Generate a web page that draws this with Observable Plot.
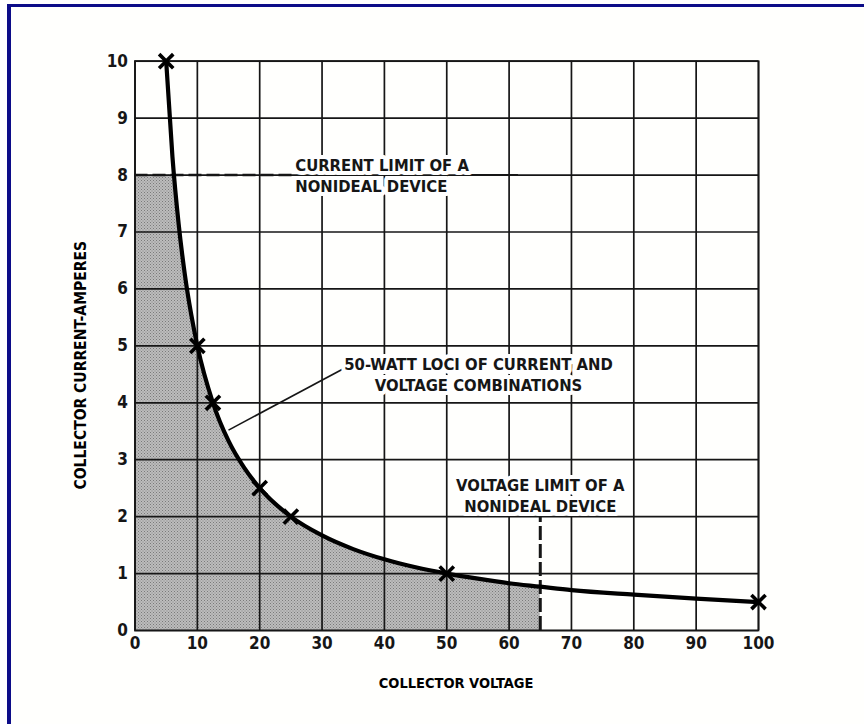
<!DOCTYPE html>
<html>
<head>
<meta charset="utf-8">
<script src="https://cdn.jsdelivr.net/npm/d3@7"></script>
<script src="https://cdn.jsdelivr.net/npm/@observablehq/plot@0.6"></script>
<style>
  html, body { margin: 0; padding: 0; background: #ffffff; width: 864px; height: 724px; overflow: hidden; }
  #frame { position: absolute; left: 7px; top: 4px; width: 900px; height: 800px;
           border-left: 4px solid #0c0c88; border-top: 3px solid #0c0c88; background: #fffffd; }
  #chart { position: absolute; left: 0; top: 0; }
</style>
</head>
<body>
<div id="frame"></div>
<div id="chart"></div>
<script>
// ---- data ----
const xTicks = [0, 10, 20, 30, 40, 50, 60, 70, 80, 90, 100];
const yTicks = [0, 1, 2, 3, 4, 5, 6, 7, 8, 9, 10];

// 50-watt locus (collector voltage, collector current)
const curveV = [5, 6, 7, 8, 9, 10, 12.5, 15, 17.5, 20, 25, 30, 35, 40, 45, 50, 55, 60, 65, 70, 80, 90, 100];
const curveI = [10, 8.33, 7.14, 6.25, 5.56, 5, 4, 3.33, 2.86, 2.5, 2, 1.67, 1.43, 1.25, 1.11, 1, 0.91, 0.83, 0.77, 0.71, 0.63, 0.56, 0.5];

// marked points (X)
const markerV = [5, 10, 12.5, 20, 25, 50, 100];
const markerI = [10, 5, 4, 2.5, 2, 1, 0.5];

// shaded safe operating region
const shadeV = [0, 6.25, 7, 8, 9, 10, 12.5, 15, 17.5, 20, 25, 30, 35, 40, 45, 50, 55, 60, 65];
const shadeI = [8, 8, 7.14, 6.25, 5.56, 5, 4, 3.33, 2.86, 2.5, 2, 1.67, 1.43, 1.25, 1.11, 1, 0.91, 0.83, 0.77];

const currentLimit = 8;
const voltageLimit = 65;
const voltageLimitTop = 2;

const labelCurrent = "CURRENT LIMIT OF A\nNONIDEAL DEVICE";
const labelLoci = "50-WATT LOCI OF CURRENT AND\nVOLTAGE COMBINATIONS";
const labelVoltage = "VOLTAGE LIMIT OF A\nNONIDEAL DEVICE";
const xTitle = "COLLECTOR VOLTAGE";
const yTitle = "COLLECTOR CURRENT-AMPERES";

// ---- build tables ----
const curve = curveV.map((v, i) => ({v, a: curveI[i]}));
const markers = markerV.map((v, i) => ({v, a: markerI[i]}));
const shade = shadeV.map((v, i) => ({v, a: shadeI[i]}));

const ink = "#161616";
const font = "'Liberation Sans Narrow', 'DejaVu Sans Condensed', 'Roboto Condensed', sans-serif";

const chart = Plot.plot({
  width: 864,
  height: 724,
  marginLeft: 134.5,
  marginRight: 106,
  marginTop: 60.7,
  marginBottom: 94,
  style: {fontFamily: font, fontWeight: "bold", fontSize: "17px", color: ink, background: "transparent"},
  x: {domain: [0, 100]},
  y: {domain: [0, 10]},
  marks: [
    Plot.areaY(shade, {x: "v", y1: 0, y2: "a", fill: "url(#stipple)", curve: "monotone-x"}),
    Plot.gridX(xTicks, {stroke: ink, strokeOpacity: 1, strokeWidth: 1.7}),
    Plot.gridY(yTicks, {stroke: ink, strokeOpacity: 1, strokeWidth: 1.7}),
    Plot.frame({stroke: ink, strokeWidth: 1.7}),
    Plot.axisX(xTicks, {tickSize: 0, tickPadding: 6, label: null, fontSize: 17, tickFormat: d => String(d)}),
    Plot.axisY(yTicks, {tickSize: 0, tickPadding: 7, label: null, fontSize: 17, tickFormat: d => String(d)}),
    Plot.ruleY([currentLimit], {x1: 0, x2: 25.5, stroke: ink, strokeWidth: 2.6, strokeDasharray: "13,5"}),
    Plot.ruleY([currentLimit], {x1: 53.5, x2: 61.5, stroke: ink, strokeWidth: 2}),
    Plot.ruleX([voltageLimit], {y1: 0, y2: voltageLimitTop, stroke: ink, strokeWidth: 3, strokeDasharray: "14,4"}),
    Plot.line(curve, {x: "v", y: "a", stroke: "#000", strokeWidth: 4.2, curve: "monotone-x"}),
    Plot.dot(markers, {x: "v", y: "a", symbol: "times", r: 6.5, stroke: "#000", strokeWidth: 3.6}),
    Plot.link([{x1: 15.0, y1: 3.52, x2: 33.8, y2: 4.62}], {x1: "x1", y1: "y1", x2: "x2", y2: "y2", stroke: ink, strokeWidth: 1.6}),
    Plot.text([labelCurrent], {x: 25.7, y: currentLimit, text: d => d, textAnchor: "start", lineAnchor: "middle", lineHeight: 1.25, fontSize: 16.5, fill: ink, stroke: "white", strokeWidth: 8}),
    Plot.text([labelLoci], {x: 55.1, y: 4.51, text: d => d, textAnchor: "middle", lineAnchor: "middle", lineHeight: 1.25, fontSize: 16.5, fill: ink, stroke: "white", strokeWidth: 8}),
    Plot.text([labelVoltage], {x: voltageLimit, y: 2.38, text: d => d, textAnchor: "middle", lineAnchor: "middle", lineHeight: 1.25, fontSize: 16.5, fill: ink, stroke: "white", strokeWidth: 8}),
    Plot.text([xTitle], {x: 51.5, frameAnchor: "bottom", dy: 53, text: d => d, textAnchor: "middle", lineAnchor: "middle", fontSize: 14.5, fill: "#000"}),
    Plot.text([yTitle], {y: 4.66, frameAnchor: "left", dx: -53.5, rotate: -90, text: d => d, textAnchor: "middle", lineAnchor: "middle", fontSize: 15.5, fill: "#000"})
  ]
});

// stipple pattern for the shaded region
const svg = d3.select(chart);
const defs = svg.insert("defs", ":first-child");
const pat = defs.append("pattern").attr("id", "stipple").attr("patternUnits", "userSpaceOnUse")
  .attr("width", 3).attr("height", 3);
pat.append("rect").attr("width", 3).attr("height", 3).attr("fill", "#bcbcbc");
pat.append("rect").attr("x", 0).attr("y", 0).attr("width", 1).attr("height", 1).attr("fill", "#7a7a7a");
pat.append("rect").attr("x", 1.5).attr("y", 1.5).attr("width", 1).attr("height", 1).attr("fill", "#868686");

document.getElementById("chart").appendChild(chart);
</script>
</body>
</html>
